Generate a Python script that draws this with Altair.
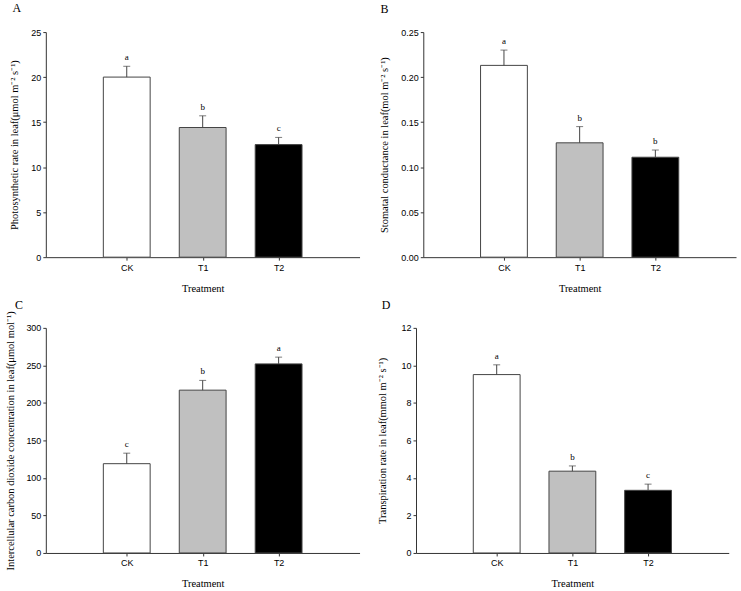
import altair as alt
import pandas as pd

treatments = ["CK", "T1", "T2"]
positions = [1, 2, 3]
fills = ["#ffffff", "#c0c0c0", "#000000"]

photo_mean = [20.0, 14.4, 12.5]
photo_se = [1.2, 1.3, 0.8]
photo_letters = ["a", "b", "c"]

cond_mean = [0.213, 0.127, 0.111]
cond_se = [0.017, 0.018, 0.008]
cond_letters = ["a", "b", "b"]

ci_mean = [119, 217, 252]
ci_se = [14, 13, 9]
ci_letters = ["c", "b", "a"]

tr_mean = [9.51, 4.36, 3.34]
tr_se = [0.52, 0.28, 0.33]
tr_letters = ["a", "b", "c"]

SERIF = "Liberation Serif"
SANS = "Liberation Sans"
AX = "#333333"


def panel(mean, se, letters, ytitle, ydomain, yvalues, yformat, tag,
          title_pad, tag_x, tag_y, width, height):
    df = pd.DataFrame({
        "pos": positions,
        "trt": treatments,
        "mean": mean,
        "top": [m + s for m, s in zip(mean, se)],
        "letter": letters,
        "fill": fills,
    })
    xscale = alt.Scale(domain=[0, 4], nice=False, zero=False)
    xaxis = alt.Axis(values=[1, 2, 3],
                     labelExpr="datum.value == 1 ? 'CK' : datum.value == 2 ? 'T1' : 'T2'",
                     title="Treatment", titlePadding=11, labelPadding=3,
                     tickSize=3)
    yscale = alt.Scale(domain=ydomain, nice=False)
    yaxis = alt.Axis(values=yvalues, format=yformat, title=ytitle,
                     titlePadding=title_pad, tickSize=3, labelPadding=2)
    x = alt.X("pos:Q", scale=xscale, axis=xaxis)
    base = alt.Chart(df)
    bars = base.mark_bar(size=47, stroke="#444444", strokeWidth=1).encode(
        x=x,
        y=alt.Y("mean:Q", scale=yscale, axis=yaxis),
        fill=alt.Fill("fill:N", scale=None),
    )
    err = base.mark_rule(color="#444444", strokeWidth=1).encode(
        x=x,
        y=alt.Y("mean:Q", scale=yscale, axis=yaxis),
        y2="top:Q",
    )
    cap = base.mark_tick(orient="horizontal", size=7, thickness=1,
                         color="#444444").encode(
        x=x,
        y=alt.Y("top:Q", scale=yscale, axis=yaxis),
    )
    txt = base.mark_text(baseline="bottom", dy=-4, font=SERIF, fontSize=9,
                         color="#000000").encode(
        x=x,
        y=alt.Y("top:Q", scale=yscale, axis=yaxis),
        text="letter:N",
    )
    label = alt.Chart(pd.DataFrame({"tag": [tag]})).mark_text(
        font=SERIF, fontSize=12, align="center", baseline="alphabetic",
        color="#000000"
    ).encode(text="tag:N", x=alt.value(tag_x), y=alt.value(tag_y))
    return alt.layer(bars, err, cap, txt, label).properties(
        width=width, height=height)


pA = panel(photo_mean, photo_se, photo_letters,
           "Photosynthetic rate in leaf(μmol m⁻² s⁻¹)",
           [0, 25], [0, 5, 10, 15, 20, 25], "d", "A", 11, -29, -20, 315, 226)
pB = panel(cond_mean, cond_se, cond_letters,
           "Stomatal conductance in leaf(mol m⁻² s⁻¹)",
           [0, 0.25], [0, 0.05, 0.10, 0.15, 0.20, 0.25], ".2f", "B", 11.5, -39, -19, 314, 226)
pC = panel(ci_mean, ci_se, ci_letters,
           "Intercellular carbon dioxide concentration in leaf(μmol mol⁻¹)",
           [0, 300], [0, 50, 100, 150, 200, 250, 300], "d", "C", 10, -27, -19, 315, 226)
pD = panel(tr_mean, tr_se, tr_letters,
           "Transpiration rate in leaf(mmol m⁻² s⁻¹)",
           [0, 12], [0, 2, 4, 6, 8, 10, 12], "d", "D", 13.7, -30, -19, 314, 226)

row1 = alt.hconcat(pA, pB, spacing=64, bounds="flush")
row2 = alt.hconcat(pC, pD, spacing=56.7, bounds="flush")

chart = alt.vconcat(row1, row2, spacing=5).properties(
    padding={"left": 5, "top": 1, "right": 5, "bottom": 3},
    background="#ffffff",
).configure_view(stroke=None).configure_axis(
    grid=False,
    domainColor=AX,
    tickColor=AX,
    labelColor="#000000",
    labelFont=SANS,
    labelFontSize=9,
    titleFont=SERIF,
    titleFontSize=10.5,
    titleFontWeight="normal",
    titleColor="#000000",
)

chart.save("out.html", embed_options={"renderer": "svg", "actions": False})
